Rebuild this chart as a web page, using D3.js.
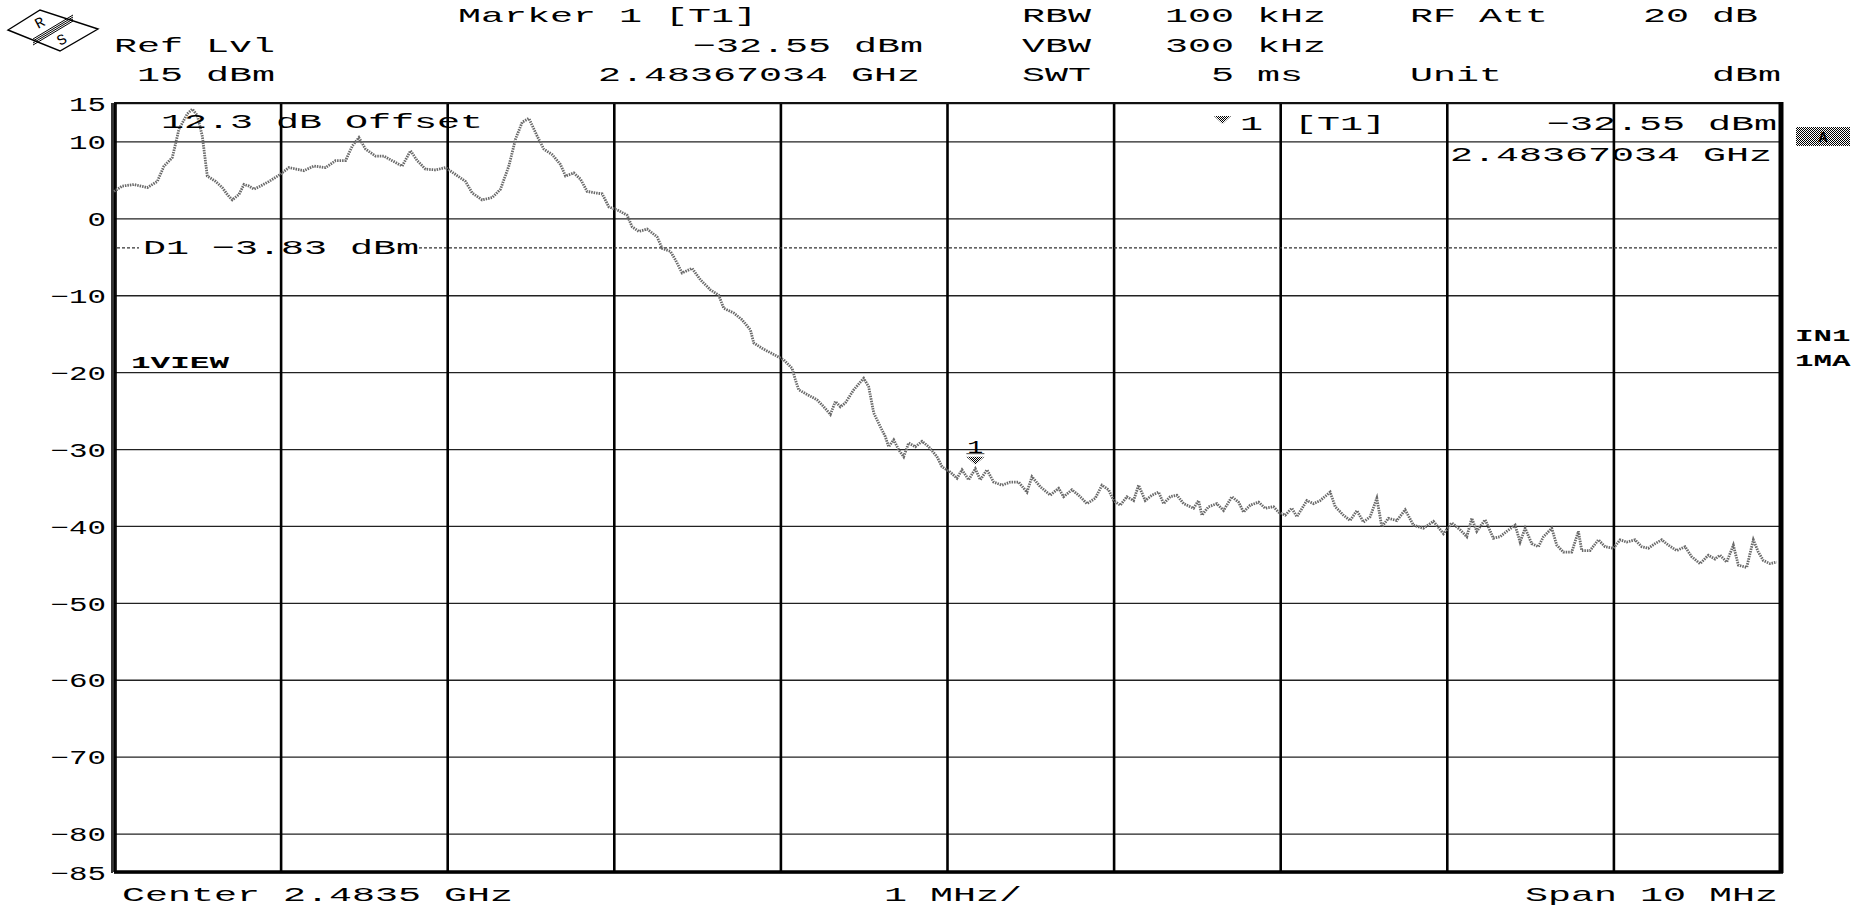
<!DOCTYPE html>
<html lang="en">
<head>
  <meta charset="UTF-8">
  <title>Spectrum Analyzer Screen</title>
  <script src="https://d3js.org/d3.v7.min.js"></script>
  <style>
      body {
          margin: 0;
          background: #fff;
      }

      svg {
          display: block;
      }

      text {
          font-family: 'Liberation Mono', 'DejaVu Sans Mono', monospace;
          fill: #000;
      }

      .grid-h line {
          stroke: #222;
          stroke-width: 1.3px;
      }

      .grid-v line {
          stroke: #000;
          stroke-width: 2.6px;
      }

      .trace {
          fill: none;
          stroke: #6a6a6a;
          stroke-width: 2.8px;
          stroke-dasharray: 1.5 1;
      }

      .display-line {
          stroke: #333;
          stroke-width: 1.3px;
          stroke-dasharray: 3 2;
      }
  </style>
</head>
<body>
<svg width="1874" height="906"></svg>
<script>

  // sweep settings (MHz)
  const centerMHz = 2483.5;
  const spanMHz = 10;

  // trace: offset from centre (MHz) and level (dBm)
  const freqOffsetMHz = [
    -5.00, -4.95, -4.88, -4.80, -4.74, -4.70, -4.65, -4.61, -4.56, -4.53,
    -4.50, -4.47, -4.44, -4.39, -4.35, -4.32, -4.29, -4.25, -4.22, -4.19,
    -4.16, -4.12, -4.07, -4.01, -3.95, -3.86, -3.80, -3.73, -3.67, -3.61,
    -3.57, -3.53, -3.49, -3.43, -3.38, -3.33, -3.27, -3.22, -3.18, -3.13,
    -3.07, -3.01, -2.95, -2.89, -2.85, -2.79, -2.73, -2.68, -2.63, -2.59,
    -2.55, -2.51, -2.46, -2.42, -2.37, -2.32, -2.29, -2.24, -2.20, -2.16,
    -2.11, -2.07, -2.03, -1.97, -1.92, -1.89, -1.85, -1.80, -1.74, -1.71,
    -1.66, -1.63, -1.59, -1.53, -1.48, -1.42, -1.37, -1.34, -1.28, -1.23,
    -1.18, -1.16, -1.11, -1.04, -0.98, -0.93, -0.91, -0.89, -0.84, -0.78,
    -0.74, -0.70, -0.67, -0.64, -0.61, -0.56, -0.50, -0.47, -0.44, -0.40,
    -0.37, -0.35, -0.32, -0.29, -0.26, -0.23, -0.19, -0.15, -0.11, -0.06,
    -0.03, 0.02, 0.06, 0.09, 0.13, 0.17, 0.20, 0.24, 0.28, 0.33,
    0.38, 0.43, 0.48, 0.51, 0.56, 0.62, 0.67, 0.70, 0.75, 0.79,
    0.84, 0.89, 0.93, 0.97, 1.00, 1.04, 1.08, 1.12, 1.15, 1.19,
    1.23, 1.27, 1.30, 1.34, 1.38, 1.42, 1.48, 1.51, 1.53, 1.57,
    1.62, 1.66, 1.71, 1.75, 1.78, 1.82, 1.87, 1.91, 1.96, 1.99,
    2.03, 2.07, 2.10, 2.16, 2.20, 2.24, 2.30, 2.33, 2.38, 2.42,
    2.46, 2.50, 2.54, 2.58, 2.61, 2.65, 2.70, 2.75, 2.80, 2.86,
    2.92, 2.98, 3.03, 3.08, 3.12, 3.15, 3.18, 3.23, 3.28, 3.32,
    3.36, 3.41, 3.44, 3.47, 3.51, 3.55, 3.58, 3.63, 3.66, 3.70,
    3.75, 3.79, 3.81, 3.86, 3.91, 3.95, 4.00, 4.04, 4.08, 4.13,
    4.17, 4.21, 4.25, 4.29, 4.33, 4.38, 4.43, 4.47, 4.52, 4.57,
    4.61, 4.64, 4.68, 4.72, 4.75, 4.80, 4.84, 4.87, 4.90, 4.94,
    4.98
  ];

  const levelDbm = [
    3.5, 4.2, 4.4, 4.0, 4.8, 6.8, 7.9, 11.6, 13.6, 14.2,
    13.4, 10.7, 5.5, 4.8, 4.0, 3.1, 2.4, 3.1, 4.4, 4.2,
    3.8, 4.2, 4.8, 5.6, 6.6, 6.2, 6.8, 6.6, 7.5, 7.5,
    9.4, 10.5, 9.0, 8.1, 8.1, 7.5, 6.8, 8.8, 7.5, 6.4,
    6.3, 6.6, 5.7, 4.8, 3.3, 2.4, 2.7, 3.8, 6.8, 10.3,
    12.5, 13.0, 10.7, 9.0, 8.3, 7.0, 5.5, 5.9, 5.1, 3.5,
    3.3, 3.2, 1.5, 1.0, 0.4, -1.1, -1.7, -1.4, -2.4, -3.9,
    -4.3, -5.4, -7.1, -6.5, -8.0, -9.3, -10.0, -11.7, -12.3, -13.2,
    -14.5, -16.2, -16.9, -17.7, -18.4, -19.5, -21.0, -22.3, -22.9, -23.6,
    -24.5, -25.5, -23.8, -24.5, -24.0, -22.3, -20.8, -21.9, -25.3, -27.1,
    -28.4, -29.7, -28.8, -30.1, -31.0, -29.2, -29.7, -29.0, -29.7, -31.0,
    -32.3, -33.0, -33.8, -32.7, -34.0, -32.55, -34.0, -32.7, -34.3, -34.7,
    -34.3, -34.3, -35.6, -33.6, -34.9, -36.0, -35.1, -36.2, -35.3, -36.0,
    -37.1, -36.4, -34.7, -35.3, -36.7, -37.3, -36.2, -36.7, -34.7, -36.7,
    -36.0, -35.6, -37.1, -36.2, -36.0, -37.1, -37.7, -36.7, -38.6, -37.5,
    -37.1, -38.0, -36.2, -36.9, -38.2, -37.3, -36.9, -37.7, -37.5, -38.2,
    -38.6, -37.7, -38.8, -36.7, -37.1, -36.7, -35.6, -37.5, -38.6, -39.3,
    -38.0, -39.5, -38.8, -36.4, -40.1, -39.0, -39.3, -37.9, -39.9, -40.3,
    -39.4, -41.0, -39.6, -40.5, -41.4, -39.0, -40.7, -39.2, -41.6, -41.4,
    -40.7, -39.9, -42.1, -40.3, -42.3, -42.7, -41.4, -40.3, -42.5, -43.4,
    -43.4, -40.7, -43.2, -43.2, -41.8, -42.7, -42.9, -41.8, -42.1, -41.8,
    -42.7, -42.9, -42.3, -41.8, -42.5, -43.2, -42.7, -44.0, -44.9, -43.8,
    -44.3, -43.8, -44.7, -42.5, -45.1, -45.4, -41.8, -43.4, -44.5, -44.9,
    -44.7
  ];

  // amplitude grid labels (dBm)
  const yTicks = [15, 10, 0, -10, -20, -30, -40, -50, -60, -70, -80, -85];
  const freqDivisions = d3.range(-5, 6);

  // marker 1 and display line
  const markerOffsetMHz = 0.17034;
  const markerLevel = -32.55;
  const displayLineLevel = -3.83;

  const CW = 23; // character pitch of the screen font

  const svg = d3.select("svg");

  const plot = {left: 114, right: 1780, top: 103, bottom: 872};

  const x = d3.scaleLinear()
  .domain([-spanMHz / 2, spanMHz / 2])
  .range([plot.left, plot.right]);

  const y = d3.scaleLinear()
  .domain([-85, 15])
  .range([plot.bottom, plot.top]);

  // hatch pattern for the little marker glyphs / status box
  const defs = svg.append("defs");
  const hatch = defs.append("pattern")
  .attr("id", "hatch")
  .attr("width", 2)
  .attr("height", 2)
  .attr("patternUnits", "userSpaceOnUse");
  hatch.append("rect").attr("width", 2).attr("height", 2).attr("fill", "#fff");
  hatch.append("rect").attr("width", 1).attr("height", 1).attr("fill", "#000");
  hatch.append("rect").attr("x", 1).attr("y", 1).attr("width", 1).attr("height", 1).attr("fill", "#000");

  function screenText(str, x0, yb, opts = {}) {
    const size = opts.size || 21;
    const pitch = opts.pitch || CW;
    const t = svg.append("text")
    .attr("x", x0)
    .attr("y", yb)
    .attr("font-size", size)
    .attr("textLength", str.length * pitch)
    .attr("lengthAdjust", "spacingAndGlyphs")
    .text(str);
    if (opts.bold) t.attr("font-weight", "bold");
    if (opts.anchor) t.attr("text-anchor", opts.anchor);
    return t;
  }

  // horizontal grid + level labels
  const yAxis = d3.axisLeft(y)
  .tickValues(yTicks)
  .tickSize(-(plot.right - plot.left))
  .tickPadding(8)
  .tickFormat(d3.format("d"));

  const gy = svg.append("g")
  .attr("class", "grid-h")
  .attr("transform", `translate(${plot.left},0)`)
  .call(yAxis);
  gy.select(".domain").remove();
  gy.selectAll("text")
  .attr("font-size", 20)
  .attr("fill", "#000")
  .attr("font-family", "'Liberation Mono', monospace")
  .attr("dy", "0.36em")
  .attr("textLength", d => d3.format("d")(d).length * 18.5)
  .attr("lengthAdjust", "spacingAndGlyphs");

  // vertical divisions
  const xAxis = d3.axisBottom(x)
  .tickValues(freqDivisions)
  .tickSize(-(plot.bottom - plot.top))
  .tickFormat("");

  const gx = svg.append("g")
  .attr("class", "grid-v")
  .attr("transform", `translate(0,${plot.bottom})`)
  .call(xAxis);
  gx.select(".domain").remove();
  gx.selectAll(".tick line")
  .filter(d => d === 0)
  .attr("stroke-width", 4.5);

  // frame
  svg.append("line")
  .attr("x1", plot.left).attr("x2", plot.right)
  .attr("y1", plot.top).attr("y2", plot.top)
  .attr("stroke", "#111").attr("stroke-width", 2.2);
  svg.append("line")
  .attr("x1", plot.left).attr("x2", plot.right + 3)
  .attr("y1", plot.bottom).attr("y2", plot.bottom)
  .attr("stroke", "#000").attr("stroke-width", 3.4);
  svg.append("line")
  .attr("x1", plot.left - 2).attr("x2", plot.left - 2)
  .attr("y1", plot.top).attr("y2", plot.bottom + 1)
  .attr("stroke", "#000").attr("stroke-width", 1.6);
  svg.append("line")
  .attr("x1", plot.left + 2).attr("x2", plot.left + 2)
  .attr("y1", plot.top).attr("y2", plot.bottom + 1)
  .attr("stroke", "#000").attr("stroke-width", 1.6);
  svg.append("line")
  .attr("x1", plot.right + 1).attr("x2", plot.right + 1)
  .attr("y1", plot.top - 1).attr("y2", plot.bottom + 1)
  .attr("stroke", "#000").attr("stroke-width", 5);

  // display line D1 (broken where its label sits)
  const d1Label = "D1 \u22123.83 dBm";
  const d1Start = 143;
  const d1End = d1Start + d1Label.length * CW;
  svg.append("line")
  .attr("class", "display-line")
  .attr("x1", plot.left + 3).attr("x2", d1Start - 4)
  .attr("y1", y(displayLineLevel)).attr("y2", y(displayLineLevel));
  svg.append("line")
  .attr("class", "display-line")
  .attr("x1", d1End).attr("x2", plot.right - 2)
  .attr("y1", y(displayLineLevel)).attr("y2", y(displayLineLevel));
  screenText(d1Label, d1Start, y(displayLineLevel) + 6);

  // trace
  const traceData = freqOffsetMHz.map((f, i) => [f, levelDbm[i]]);
  const line = d3.line()
  .x(d => x(d[0]))
  .y(d => y(d[1]));

  svg.append("path")
  .datum(traceData)
  .attr("class", "trace")
  .attr("d", line);

  // marker 1 on the trace
  const mx = x(markerOffsetMHz);
  const my = y(markerLevel);
  svg.append("path")
  .attr("d", `M${mx - 9},${my - 12}L${mx + 9},${my - 12}L${mx},${my - 4}Z`)
  .attr("fill", "url(#hatch)");
  screenText("1", mx - 8, my - 16, {size: 18, pitch: 16});
  svg.append("line")
  .attr("x1", mx - 9).attr("x2", mx + 9)
  .attr("y1", my - 15).attr("y2", my - 15)
  .attr("stroke", "#444").attr("stroke-width", 1);

  // in-grid annotations
  screenText("12.3 dB Offset", 161, 128);
  screenText("1VIEW", 131, 368, {size: 17, pitch: 19.6, bold: true});

  // marker readout (top right of grid)
  svg.append("path")
  .attr("d", "M1214,116L1231,116L1222.5,124Z")
  .attr("fill", "url(#hatch)");
  screenText("1", 1240, 130);
  screenText("[T1]", 1294, 130);
  screenText("\u221232.55 dBm", 1547, 130);
  screenText("2.48367034 GHz", 1450, 161);

  // header block
  screenText("Marker 1 [T1]", 458, 22);
  screenText("RBW", 1022, 22);
  screenText("100 kHz", 1165, 22);
  screenText("RF Att", 1410, 22);
  screenText("20 dB", 1643, 22);

  screenText("Ref Lvl", 114, 52);
  screenText("\u221232.55 dBm", 693, 52);
  screenText("VBW", 1022, 52);
  screenText("300 kHz", 1165, 52);

  screenText("15 dBm", 137, 81);
  screenText("2.48367034 GHz", 598, 81);
  screenText("SWT", 1022, 81);
  screenText("5 ms", 1211, 81);
  screenText("Unit", 1410, 81);
  screenText("dBm", 1712, 81);

  // footer
  screenText("Center 2.4835 GHz", 122, 901);
  screenText("1 MHz/", 884, 901);
  screenText("Span 10 MHz", 1525, 901);

  // right-hand status column
  svg.append("rect")
  .attr("x", 1796).attr("y", 127)
  .attr("width", 54).attr("height", 19)
  .attr("fill", "url(#hatch)");
  svg.append("text")
  .attr("x", 1823).attr("y", 142)
  .attr("text-anchor", "middle")
  .attr("font-size", 15)
  .attr("font-weight", "bold")
  .attr("fill", "#fff")
  .text("A");
  screenText("IN1", 1795, 341, {size: 16, pitch: 18.5, bold: true});
  screenText("1MA", 1795, 366, {size: 16, pitch: 18.5, bold: true});

  // R&S logo
  const logo = svg.append("g").attr("class", "logo");
  logo.append("path")
  .attr("d", "M8,30L40,10L98,29L60,51Z")
  .attr("fill", "none")
  .attr("stroke", "#000")
  .attr("stroke-width", 1.4);
  [-3, -1, 1, 3].forEach(off => {
    logo.append("line")
    .attr("x1", 33).attr("y1", 42 + off)
    .attr("x2", 73).attr("y2", 18 + off)
    .attr("stroke", "#000")
    .attr("stroke-width", 1);
  });
  logo.append("text")
  .attr("transform", "translate(38,29) rotate(-28)")
  .attr("font-size", 15)
  .text("R");
  logo.append("text")
  .attr("transform", "translate(60,46) rotate(-28)")
  .attr("font-size", 15)
  .text("S");

</script>
</body>
</html>
